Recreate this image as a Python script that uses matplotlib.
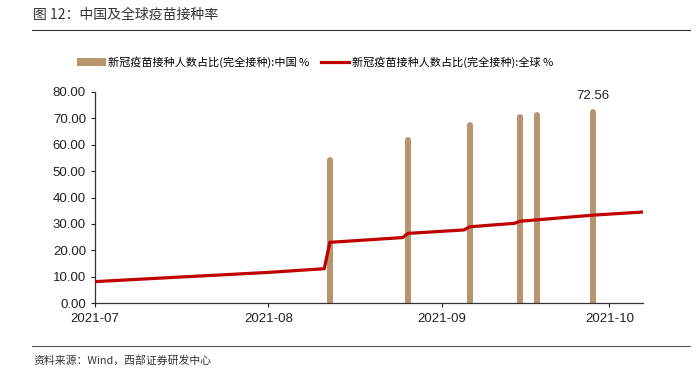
#!/usr/bin/env python3
"""China vs global full-vaccination rate chart."""
import numpy as np
import matplotlib
matplotlib.use('Agg')
import matplotlib.pyplot as plt
import matplotlib.dates as mdates
from matplotlib.lines import Line2D
from matplotlib.patches import Patch

plt.rcParams['font.family'] = ['Liberation Sans', 'Noto Sans CJK SC', 'DejaVu Sans']

# --- data ---
china_dates = ['2021-08-12', '2021-08-26', '2021-09-06', '2021-09-15',
               '2021-09-18', '2021-09-28']
china_vals = [54.2, 61.8, 67.5, 70.4, 71.3, 72.56]

world_dates = ['2021-07-01', '2021-07-15', '2021-08-01', '2021-08-11',
               '2021-08-12', '2021-08-25', '2021-08-26', '2021-09-05',
               '2021-09-06', '2021-09-14', '2021-09-15', '2021-09-28',
               '2021-10-07']
world_vals = [8.1, 9.7, 11.6, 13.0, 23.0, 24.8, 26.4, 27.7, 28.9,
              30.2, 31.0, 33.3, 34.5]

china_x = np.array(china_dates, dtype='datetime64[D]')
world_x = np.array(world_dates, dtype='datetime64[D]')

bar_color = '#B8956F'
line_color = '#C00000'
cjk = ['Noto Sans CJK SC', 'DejaVu Sans']

fig = plt.figure(figsize=(6.97, 3.71), dpi=100)
ax = fig.add_axes([95 / 697, 1 - 303 / 371, (643 - 95) / 697, (303 - 92) / 371])

ax.vlines(china_x, 0, china_vals, color=bar_color, lw=4.3,
          capstyle='round', zorder=2)
ax.plot(world_x, world_vals, color=line_color, lw=2.3, zorder=3)

# label for the latest value
ax.text(china_x[-1], china_vals[-1] + 3.5, f'{china_vals[-1]:.2f}',
        ha='center', va='bottom', fontsize=9.5, color='#222222')

ax.set_ylim(0, 80)
ax.set_yticks(np.arange(0, 81, 10))
ax.yaxis.set_major_formatter(matplotlib.ticker.FormatStrFormatter('%.2f'))
ax.set_xlim(np.datetime64('2021-07-01'), np.datetime64('2021-10-07'))
ax.xaxis.set_major_locator(mdates.MonthLocator())
ax.xaxis.set_major_formatter(mdates.DateFormatter('%Y-%m'))

for s in ['top', 'right']:
    ax.spines[s].set_visible(False)
for s in ['left', 'bottom']:
    ax.spines[s].set_color('#333333')
    ax.spines[s].set_linewidth(0.9)
ax.tick_params(axis='both', labelsize=9.5, colors='#222222', length=3,
               width=0.8, direction='out')
ax.tick_params(axis='x', pad=4)

handles = [Patch(facecolor=bar_color, edgecolor='none'),
           Line2D([0], [0], color=line_color, lw=2.3)]
labels = ['新冠疫苗接种人数占比(完全接种):中国 %',
          '新冠疫苗接种人数占比(完全接种):全球 %']
fig.legend(handles, labels, loc='center', bbox_to_anchor=(315 / 697, 1 - 62 / 371),
           ncol=2, frameon=False, handlelength=2.6,
           handletextpad=0.2, columnspacing=1.0,
           prop={'family': cjk, 'size': 8})

# header / footer
fig.text(33 / 697, 1 - 15 / 371, '图 12：中国及全球疫苗接种率', ha='left', va='center',
         fontsize=10, color='#333333', family=cjk)
fig.add_artist(Line2D([32 / 697, 690 / 697], [1 - 30 / 371, 1 - 30 / 371],
                      color='#333333', lw=0.8))
fig.add_artist(Line2D([32 / 697, 690 / 697], [1 - 346 / 371, 1 - 346 / 371],
                      color='#555555', lw=0.8))
fig.text(33 / 697, 1 - 360 / 371, '资料来源：Wind，西部证券研发中心', ha='left',
         va='center', fontsize=7.8, color='#333333', family=cjk)

fig.savefig('out.png', dpi=100)
